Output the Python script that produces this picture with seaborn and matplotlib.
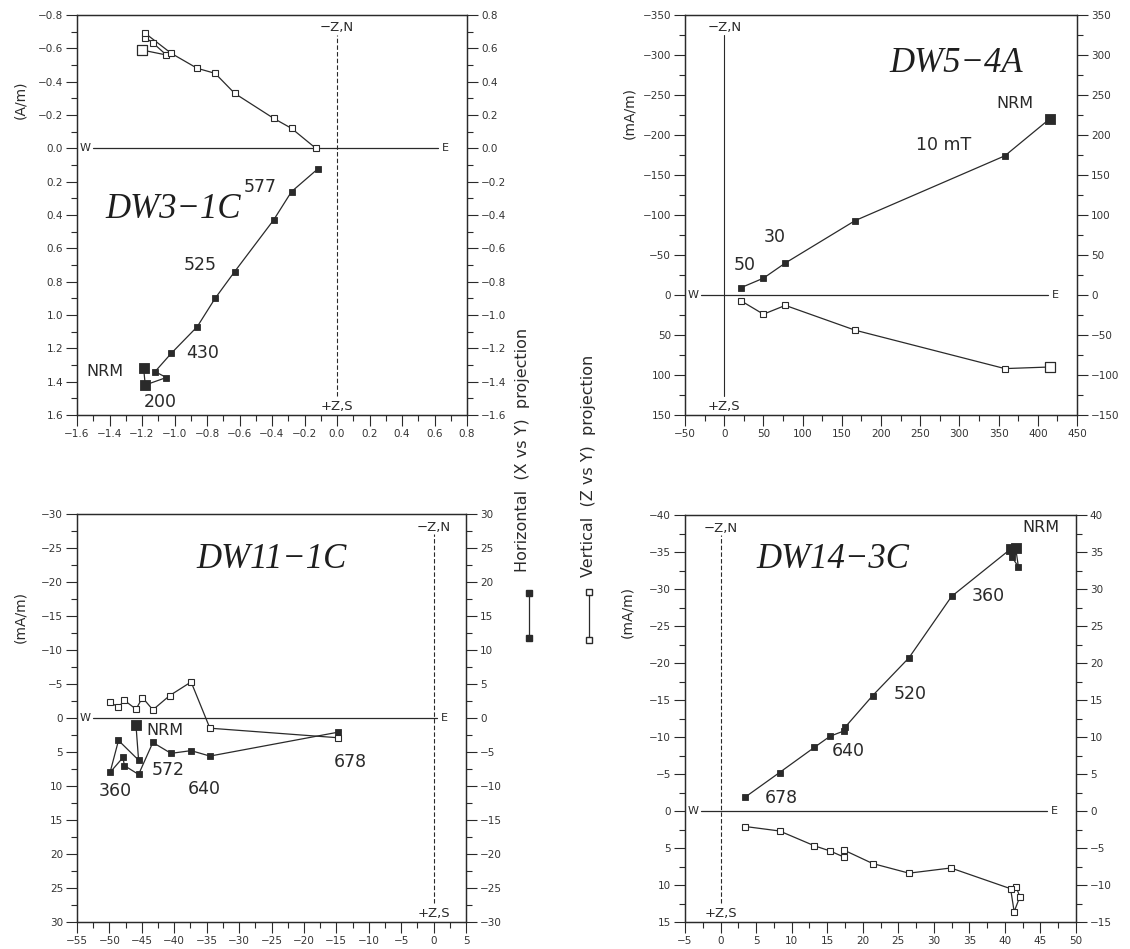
import numpy as np
import pandas as pd
import matplotlib
matplotlib.use('Agg')
from matplotlib import pyplot as plt
from matplotlib.ticker import MultipleLocator
from matplotlib.lines import Line2D
import seaborn as sns

sns.set_theme(style='ticks')
plt.rcParams['font.family'] = ['DejaVu Sans']
ink = '#2a2a2a'

# DW3-1C (A/m): horizontal (X vs Y) and vertical (Z vs Y) projections
dw3_h_x = [-1.19, -1.18, -1.05, -1.12, -1.02, -0.86, -0.75, -0.63, -0.39, -0.28, -0.12]
dw3_h_y = [1.32, 1.42, 1.375, 1.34, 1.23, 1.07, 0.90, 0.74, 0.43, 0.26, 0.125]
dw3_v_x = [-1.20, -1.05, -1.13, -1.18, -1.18, -1.02, -0.86, -0.75, -0.63, -0.39, -0.28, -0.13]
dw3_v_y = [-0.59, -0.56, -0.63, -0.665, -0.69, -0.57, -0.48, -0.45, -0.33, -0.18, -0.12, 0.0]
dw3_labels = ['577', '525', '430', 'NRM', '200']
dw3_label_x = [-0.47, -0.84, -0.83, -1.43, -1.09]
dw3_label_y = [0.235, 0.70, 1.23, 1.34, 1.52]

# DW5-4A (mA/m)
dw5_h_x = [415, 358, 167, 78, 50, 21]
dw5_h_y = [-220, -174, -93, -40, -21, -9]
dw5_v_x = [415, 358, 167, 78, 50, 21]
dw5_v_y = [90, 92, 44, 13, 24, 7]
dw5_labels = ['NRM', '10 mT', '30', '50']
dw5_label_x = [371, 280, 64, 26]
dw5_label_y = [-240, -187, -73, -37]

# DW11-1C (mA/m)
dw11_h_x = [-45.9, -45.5, -48.6, -49.9, -47.9, -47.7, -45.5, -43.3, -40.5, -37.4, -34.5, -14.8]
dw11_h_y = [1.1, 6.2, 3.3, 8.0, 5.8, 7.0, 8.3, 3.6, 5.2, 4.8, 5.6, 2.1]
dw11_v_x = [-49.9, -48.6, -47.7, -45.9, -44.9, -43.3, -40.7, -37.4, -34.5, -14.8]
dw11_v_y = [-2.3, -1.6, -2.6, -1.3, -3.0, -1.2, -3.3, -5.3, 1.5, 2.9]
dw11_labels = ['NRM', '572', '360', '640', '678']
dw11_label_x = [-41.4, -40.9, -49.1, -35.4, -12.8]
dw11_label_y = [1.8, 7.7, 10.7, 10.5, 6.5]

# DW14-3C (mA/m)
dw14_h_x = [41.5, 41.9, 41.0, 40.8, 32.5, 26.5, 21.4, 17.5, 17.3, 15.4, 13.2, 8.3, 3.5]
dw14_h_y = [-35.6, -33.0, -34.3, -35.4, -29.0, -20.7, -15.6, -11.3, -10.8, -10.1, -8.6, -5.2, -1.9]
dw14_v_x = [41.6, 42.1, 41.3, 40.8, 32.4, 26.5, 21.4, 17.4, 17.3, 15.4, 13.2, 8.3, 3.5]
dw14_v_y = [10.3, 11.6, 13.6, 10.5, 7.7, 8.4, 7.1, 5.3, 6.2, 5.4, 4.7, 2.7, 2.1]
dw14_labels = ['NRM', '360', '520', '640', '678']
dw14_label_x = [45.1, 37.6, 26.7, 18.0, 8.6]
dw14_label_y = [-38.3, -29.0, -15.8, -8.1, -1.8]

W, H = 1130, 949
fig = plt.figure(figsize=(W / 100, H / 100), dpi=100)


def px_rect(left, top, right, bottom):
    return [left / W, 1 - bottom / H, (right - left) / W, (bottom - top) / H]


def zijderveld(rect, xlim, ylim, xstep, ystep, hx, hy, vx, vy, big_h, big_v,
               title, title_xy, labels, lab_x, lab_y, dashed=True):
    ax = fig.add_axes(rect)
    dh = pd.DataFrame({'x': hx, 'y': hy})
    dv = pd.DataFrame({'x': vx, 'y': vy})
    sns.lineplot(data=dh, x='x', y='y', sort=False, estimator=None, ax=ax,
                 color=ink, linewidth=0.9, marker='s', markersize=4.2,
                 markerfacecolor=ink, markeredgecolor=ink, markeredgewidth=0.6, zorder=3)
    sns.lineplot(data=dv, x='x', y='y', sort=False, estimator=None, ax=ax,
                 color=ink, linewidth=0.9, marker='s', markersize=4.2,
                 markerfacecolor='white', markeredgecolor=ink, markeredgewidth=0.8, zorder=3)
    if big_h:
        sns.scatterplot(data=dh.iloc[big_h], x='x', y='y', ax=ax, marker='s', s=55,
                        color=ink, edgecolor=ink, linewidth=0.6, zorder=4)
    if big_v:
        sns.scatterplot(data=dv.iloc[big_v], x='x', y='y', ax=ax, marker='s', s=55,
                        color='white', edgecolor=ink, linewidth=0.9, zorder=4)

    ax.set_xlim(*xlim)
    ax.set_ylim(ylim[1], ylim[0])
    ax.set_xlabel('')
    ax.set_ylabel('')

    # W-E axis and N-S axis of the projection
    yt = ax.get_yaxis_transform()
    xt = ax.get_xaxis_transform()
    ax.plot([0.04, 0.925], [0, 0], transform=yt, color=ink, lw=0.9)
    ax.text(0.02, 0, 'W', transform=yt, ha='center', va='center', fontsize=8, color=ink)
    ax.text(0.945, 0, 'E', transform=yt, ha='center', va='center', fontsize=8, color=ink)
    ax.plot([0, 0], [0.047, 0.95], transform=xt, color=ink, lw=0.8,
            linestyle=(0, (4, 2)) if dashed else '-')
    ax.text(0, 0.968, '\u2212Z,N', transform=xt, ha='center', va='center', fontsize=9.5, color=ink)
    ax.text(0, 0.022, '+Z,S', transform=xt, ha='center', va='center', fontsize=9.5, color=ink)

    ax.text(title_xy[0], title_xy[1], title, ha='center', va='center', fontsize=25,
            family='Liberation Serif', style='italic', color='#1e1e1e')
    for t, x, y in zip(labels, lab_x, lab_y):
        ax.text(x, y, t, ha='center', va='center', fontsize=12.5 if t != 'NRM' else 11.5,
                color=ink)

    ax2 = ax.twinx()
    ax2.set_ylim(-ylim[1], -ylim[0])
    for a in (ax, ax2):
        for s in a.spines.values():
            s.set_color(ink)
            s.set_linewidth(0.9)
        a.tick_params(which='major', length=8, width=0.8, color=ink, labelsize=7.5,
                      labelcolor='#333333', pad=2, direction='out')
        a.tick_params(which='minor', length=4, width=0.8, color=ink, direction='out')
        a.yaxis.set_major_locator(MultipleLocator(ystep))
        a.yaxis.set_minor_locator(MultipleLocator(ystep / 2))
    ax.xaxis.set_major_locator(MultipleLocator(xstep))
    ax.xaxis.set_minor_locator(MultipleLocator(xstep / 2))
    ax.tick_params(axis='x', which='both', top=False)
    ax.tick_params(axis='y', which='both', right=False)
    ax2.tick_params(axis='y', which='both', left=False)
    return ax


zijderveld(px_rect(77, 15, 467, 415), (-1.6, 0.8), (-0.8, 1.6), 0.2, 0.2,
           dw3_h_x, dw3_h_y, dw3_v_x, dw3_v_y, [0, 1], [0],
           'DW3\u22121C', (-1.01, 0.365), dw3_labels, dw3_label_x, dw3_label_y)
zijderveld(px_rect(685, 15, 1077, 415), (-50, 450), (-350, 150), 50, 50,
           dw5_h_x, dw5_h_y, dw5_v_x, dw5_v_y, [0], [0],
           'DW5\u22124A', (296, -289), dw5_labels, dw5_label_x, dw5_label_y, dashed=False)
zijderveld(px_rect(77, 514, 466, 922), (-55, 5), (-30, 30), 5, 5,
           dw11_h_x, dw11_h_y, dw11_v_x, dw11_v_y, [0], [],
           'DW11\u22121C', (-25.0, -23.3), dw11_labels, dw11_label_x, dw11_label_y)
zijderveld(px_rect(685, 515, 1076, 922), (-5, 50), (-40, 15), 5, 5,
           dw14_h_x, dw14_h_y, dw14_v_x, dw14_v_y, [0, 3], [],
           'DW14\u22123C', (15.8, -34.0), dw14_labels, dw14_label_x, dw14_label_y)

# unit labels
for txt, x, y in [('(A/m)', 20, 100), ('(mA/m)', 629, 113), ('(mA/m)', 20, 617), ('(mA/m)', 627, 612)]:
    fig.text(x / W, 1 - y / H, txt, rotation=90, ha='center', va='center', fontsize=10, color=ink)

# projection key in the middle
fig.add_artist(Line2D([529 / W, 529 / W], [1 - 593 / H, 1 - 638 / H], transform=fig.transFigure,
                      color=ink, lw=0.9, marker='s', markersize=5, markerfacecolor=ink,
                      markeredgecolor=ink))
fig.add_artist(Line2D([589 / W, 589 / W], [1 - 592 / H, 1 - 640 / H], transform=fig.transFigure,
                      color=ink, lw=0.9, marker='s', markersize=5, markerfacecolor='white',
                      markeredgecolor=ink))
fig.text(523 / W, 1 - 572 / H, 'Horizontal  (X vs Y)  projection', rotation=90,
         ha='center', va='bottom', fontsize=11.5, color=ink)
fig.text(588 / W, 1 - 577 / H, 'Vertical  (Z vs Y)  projection', rotation=90,
         ha='center', va='bottom', fontsize=11.5, color=ink)

fig.savefig('out.png', dpi=100, facecolor='white')
